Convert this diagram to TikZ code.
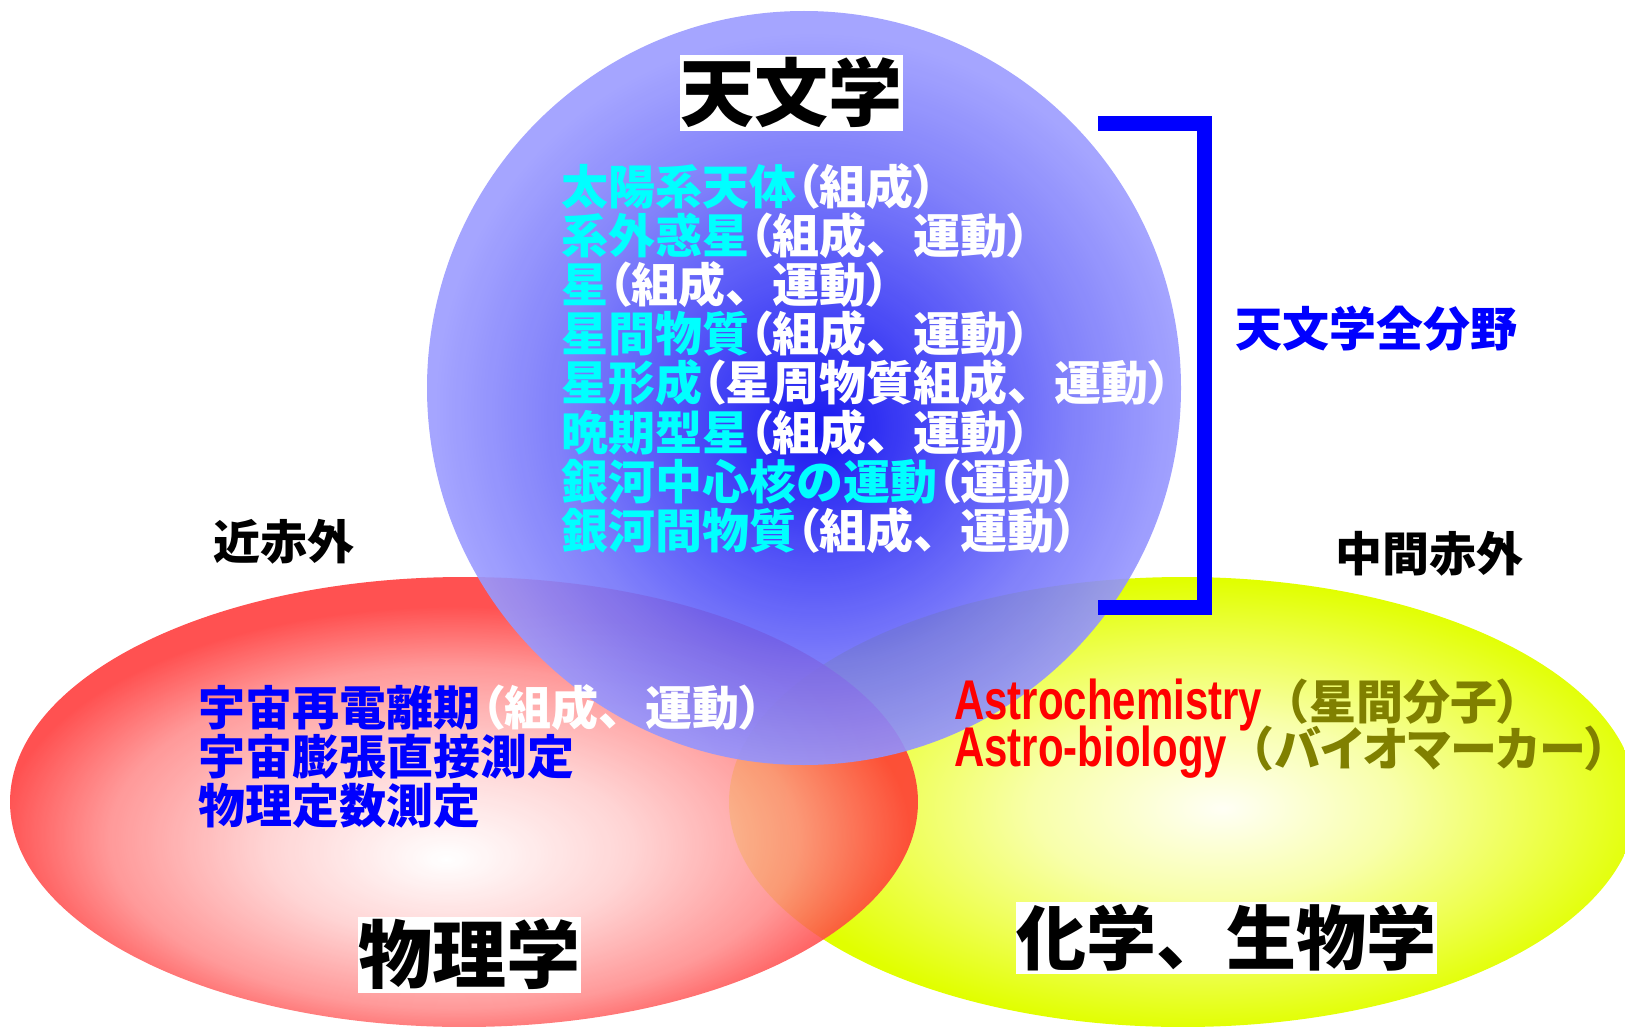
\documentclass[tikz,border=0pt]{standalone}
\usepackage{fontspec}
\newfontfamily\jp{Noto Sans CJK JP}
\newfontfamily\jpp{Noto Sans CJK JP}[RawFeature=+palt]
\newfontfamily\latn{Liberation Sans}[FakeStretch=0.75]
\definecolor{bA}{RGB}{0,0,238}
\definecolor{bB}{RGB}{55,55,245}
\definecolor{bC}{RGB}{115,115,250}
\definecolor{bD}{RGB}{155,155,255}
\definecolor{rA}{RGB}{255,255,255}
\definecolor{rB}{RGB}{255,205,205}
\definecolor{rC}{RGB}{255,135,135}
\definecolor{rD}{RGB}{255,50,50}
\definecolor{yA}{RGB}{255,255,245}
\definecolor{yB}{RGB}{248,255,170}
\definecolor{yC}{RGB}{238,255,80}
\definecolor{yD}{RGB}{225,255,0}
\definecolor{olivetxt}{RGB}{128,128,0}
\definecolor{cyantxt}{RGB}{0,255,255}
\definecolor{bluetxt}{RGB}{0,0,255}
\definecolor{redtxt}{RGB}{255,0,0}
\pgfdeclareradialshading{blueball}{\pgfpoint{1bp}{-2.8bp}}{color(0bp)=(bA); color(8bp)=(bB); color(17bp)=(bC); color(25bp)=(bD); color(50bp)=(bD)}
\pgfdeclareradialshading{redball}{\pgfpoint{-1bp}{-6.4bp}}{color(0bp)=(rA); color(10bp)=(rB); color(19bp)=(rC); color(25bp)=(rD); color(50bp)=(rD)}
\pgfdeclareradialshading{yellowball}{\pgfpoint{2.2bp}{-0.7bp}}{color(0bp)=(yA); color(10bp)=(yB); color(18bp)=(yC); color(25bp)=(yD); color(50bp)=(yD)}
\newcommand\jlp{{\jpp （}}
\newcommand\jrp{{\jpp ）}}
\tikzset{
  txt/.style={anchor=base west, inner sep=0pt, font=\jp\bfseries\fontsize{47}{49}\selectfont},
  bigA/.style={fill=white, inner xsep=0.5pt, inner ysep=1pt, font=\jp\bfseries\fontsize{74}{76}\selectfont, text height=65pt, text depth=9pt},
  bigB/.style={fill=white, inner xsep=0.5pt, inner ysep=1pt, font=\jp\bfseries\fontsize{70}{72}\selectfont, text height=61.6pt, text depth=8.4pt},
  bracketline/.style={line width=15pt, draw=bluetxt, line join=miter, line cap=butt},
  latin/.style={anchor=base west, inner sep=0pt, text=redtxt, text height=41pt, text depth=4pt, font=\latn\bfseries\fontsize{56}{58}\selectfont}
}
\begin{document}
\begin{tikzpicture}[x=1pt,y=-1pt]
\useasboundingbox (0,0) rectangle (1625,1027);
\clip (0,0) rectangle (1625,1027);
% circles
\shade[shading=yellowball] (1183,802) ellipse [x radius=454, y radius=225];
\shade[shading=redball, opacity=0.85] (464,802) ellipse [x radius=454, y radius=225];
\shade[shading=blueball, opacity=0.9] (804,388) circle [radius=377];
% bracket
\coordinate (bt) at (1098,123.5);
\coordinate (bb) at (1098,607.5);
\draw[bracketline] (bt) -- (1204.5,123.5) -- (1204.5,607.5) -- (bb);
% big labels
\node[bigA] (tenmon) at (791.5,93) {天文学};
\node[bigA] (butsuri) at (469,954.5) {物理学};
\node[bigB] (kagaku) at (1226.5,938) {化学、生物学};
% side labels
\node[txt] (kinsekigai) at (213.5,559.5) {近赤外};
\node[txt] (chukan) at (1335.5,571.5) {中間赤外};
\node[txt, text=bluetxt] (zenbunya) at (1235.5,346.5) {天文学全分野};
% astronomy list
\node[txt] (s1) at (561,204.5) {\color{cyantxt}太陽系天体\color{white}\jlp 組成\jrp};
\node[txt] (s2) at (561,253.6) {\color{cyantxt}系外惑星\color{white}\jlp 組成、運動\jrp};
\node[txt] (s3) at (561,302.7) {\color{cyantxt}星\color{white}\jlp 組成、運動\jrp};
\node[txt] (s4) at (561,351.8) {\color{cyantxt}星間物質\color{white}\jlp 組成、運動\jrp};
\node[txt] (s5) at (561,400.9) {\color{cyantxt}星形成\color{white}\jlp 星周物質組成、運動\jrp};
\node[txt] (s6) at (561,450.0) {\color{cyantxt}晩期型星\color{white}\jlp 組成、運動\jrp};
\node[txt] (s7) at (561,499.1) {\color{cyantxt}銀河中心核の運動\color{white}\jlp 運動\jrp};
\node[txt] (s8) at (561,548.2) {\color{cyantxt}銀河間物質\color{white}\jlp 組成、運動\jrp};
% physics list
\node[txt] (p1) at (198.5,725) {\color{bluetxt}宇宙再電離期\color{white}\jlp 組成、運動\jrp};
\node[txt, text=bluetxt] (p2) at (198.5,774.5) {宇宙膨張直接測定};
\node[txt, text=bluetxt] (p3) at (198.5,823) {物理定数測定};
% chemistry list
\node[latin] (c1a) at (954,719.6) {Astrochemistry};
\node[txt, text=olivetxt] (c1b) at (c1a.base east) {（星間分子\jrp};
\node[latin] (c2a) at (954,766.3) {Astro-biology};
\node[txt, text=olivetxt] (c2b) at (c2a.base east) {（{\jpp バイオマーカー}\jrp};
\end{tikzpicture}
\end{document}
